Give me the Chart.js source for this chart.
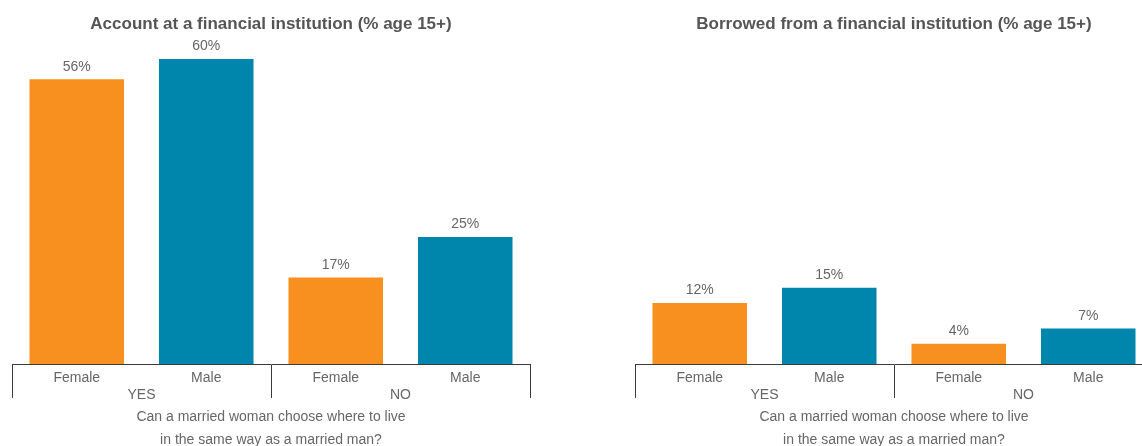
<!DOCTYPE html>
<html>
<head>
<meta charset="utf-8">
<script src="https://cdn.jsdelivr.net/npm/chart.js@4/dist/chart.umd.min.js"></script>
<style>
  html, body { margin: 0; padding: 0; background: #fff; overflow: hidden; }
  #wrap { position: relative; width: 1142px; height: 446px; overflow: hidden; }
  canvas { position: absolute; top: 0; }
  #c1 { left: 0; }
  #c2 { left: 623px; }
</style>
</head>
<body>
<div id="wrap">
  <canvas id="c1" width="542" height="452"></canvas>
  <canvas id="c2" width="542" height="452"></canvas>
</div>
<script>
const categories = ["Female", "Male", "Female", "Male"];
const groups = ["YES", "NO"];
const accountValues = [56, 60, 17, 25];
const borrowedValues = [12, 15, 4, 7];
const barColors = ["#F7901E", "#0086AC", "#F7901E", "#0086AC"];
const axisTitle = ["Can a married woman choose where to live", "in the same way as a married man?"];

const fontFamily = "'Liberation Sans Narrow', 'Liberation Sans', Arial, sans-serif";
const textGrey = "#666666";
const lineGrey = "#3a3a3a";

// draws the "56%" labels above each bar
const valueLabels = {
  id: "valueLabels",
  afterDatasetsDraw(chart) {
    const ctx = chart.ctx;
    const meta = chart.getDatasetMeta(0);
    ctx.save();
    ctx.font = "14px " + fontFamily;
    ctx.fillStyle = textGrey;
    ctx.textAlign = "center";
    ctx.textBaseline = "middle";
    meta.data.forEach((bar, i) => {
      ctx.fillText(chart.data.datasets[0].data[i] + "%", bar.x, bar.y - 12.5);
    });
    ctx.restore();
  }
};

function criarGrafico(id, titulo, valores) {
  return new Chart(document.getElementById(id), {
    type: "bar",
    data: {
      labels: categories,
      datasets: [{
        data: valores,
        backgroundColor: barColors,
        categoryPercentage: 1,
        barPercentage: 0.73
      }]
    },
    options: {
      responsive: false,
      animation: false,
      layout: { padding: { left: 12, right: 12, top: 0, bottom: 0 } },
      plugins: {
        legend: { display: false },
        tooltip: { enabled: false },
        title: {
          display: true,
          text: titulo,
          color: "#555555",
          font: { family: fontFamily, size: 17, weight: "bold", lineHeight: 1.2 },
          padding: { top: 14, bottom: 24.6 }
        }
      },
      scales: {
        y: { display: false, min: 0, max: 60 },
        x: {
          offset: true,
          grid: {
            offset: true,
            drawOnChartArea: false,
            drawTicks: true,
            tickLength: 34,
            lineWidth: 1,
            color: ctx => (ctx.index === undefined || ctx.index % 2 === 0) ? lineGrey : "rgba(0,0,0,0)"
          },
          border: { display: true, color: lineGrey, width: 1 },
          ticks: {
            color: textGrey,
            padding: -28,
            maxRotation: 0,
            autoSkip: false,
            font: { family: fontFamily, size: 14, lineHeight: 1.2 }
          },
          afterFit: scale => { scale.height = 24; }
        },
        x2: {
          type: "category",
          axis: "x",
          position: "bottom",
          labels: groups,
          offset: true,
          grid: { display: false, drawTicks: false },
          border: { display: false },
          ticks: {
            color: textGrey,
            padding: -1,
            maxRotation: 0,
            font: { family: fontFamily, size: 14, lineHeight: 1.2 }
          },
          title: {
            display: true,
            text: axisTitle,
            color: textGrey,
            padding: { top: 0, bottom: 0 },
            font: { family: fontFamily, size: 14, lineHeight: 1.64 }
          },
          afterFit: scale => { scale.height = 64; }
        }
      }
    },
    plugins: [valueLabels]
  });
}

criarGrafico("c1", "Account at a financial institution (% age 15+)", accountValues);
criarGrafico("c2", "Borrowed from a financial institution (% age 15+)", borrowedValues);
</script>
</body>
</html>
